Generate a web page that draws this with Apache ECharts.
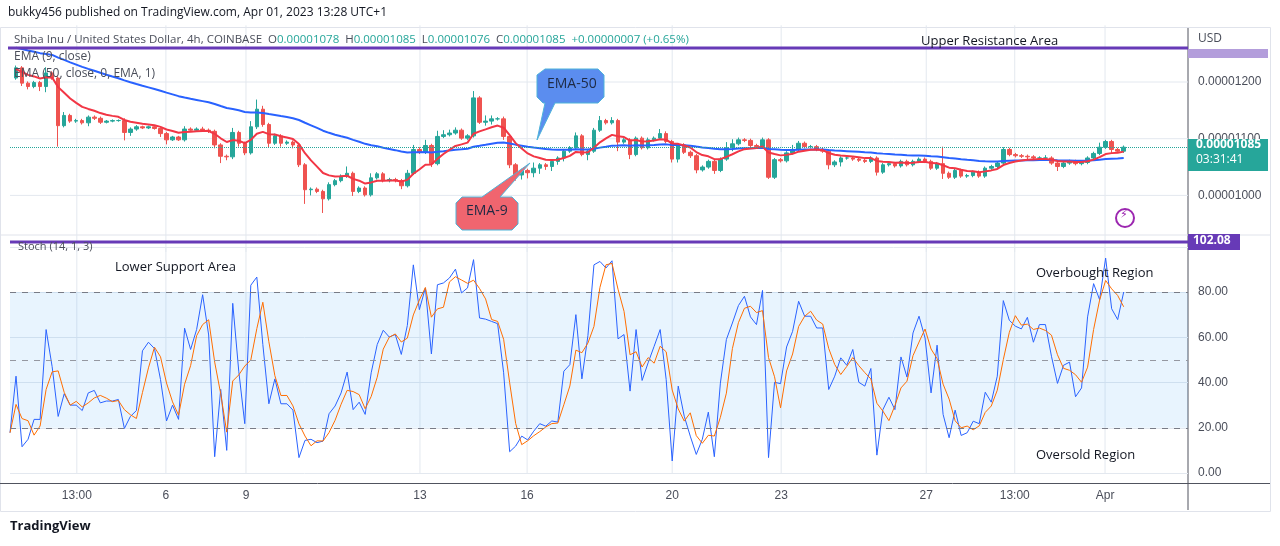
<!DOCTYPE html>
<html><head><meta charset="utf-8">
<script src="https://cdn.jsdelivr.net/npm/echarts@6/dist/echarts.min.js"></script>
<style>html,body{margin:0;padding:0;background:#fff}#c{width:1280px;height:546px}</style>
</head><body><div id="c"></div>
<script>
// prices in units of 1e-8 USD
const closes = [
1225,1198,1192,1199,1192,1216,1207,1123,1141,1131,1132,1128,1138,1136,1129,1131,1132,1132,1111,1117,1121,1119,1121,1118,1109,1098,1103,1098,1117,1115,1117,1115,1113,1089,1069,1068,1111,1092,1075,1121,1152,1125,1092,1105,1092,1094,1089,1054,
1010,1011,1007,994,1019,1026,1034,1039,1007,1013,1001,1031,1038,1026,1028,1026,1017,1039,1081,1076,1088,1056,1104,1107,1110,1115,1101,1105,1172,1129,1131,1135,1135,1104,1054,1036,1044,1040,1048,1054,1051,1060,1066,1078,1084,1105,1072,1078,
1115,1132,1128,1132,1094,1098,1072,1101,1084,1098,1101,1109,1095,1064,1089,1076,1070,1045,1050,1060,1044,1064,1084,1091,1098,1097,1088,1086,1098,1032,1063,1061,1075,1081,1092,1086,1086,1081,1078,1054,1059,1066,1066,1064,1062,1060,1066,1041,
1054,1056,1052,1060,1054,1060,1064,1060,1048,1056,1039,1032,1044,1034,1035,1041,1034,1048,1051,1057,1081,1072,1070,1069,1068,1066,1066,1066,1057,1051,1057,1060,1056,1058,1066,1074,1085,1095,1081,1078,1085];
const firstOpen = 1207;
const wickUp = [
4,3,3,3,3,10,3,3,6,3,3,3,3,3,3,2,2,2,4,3,3,2,2,2,2,3,2,2,5,3,3,4,3,3,3,3,8,3,3,10,17,6,3,4,3,3,3,3,
3,3,3,3,4,3,3,12,3,3,3,8,3,3,3,3,3,6,8,4,10,3,10,8,6,5,3,3,12,3,10,6,3,4,3,3,3,3,10,3,3,3,3,4,3,6,3,3,
4,8,3,6,3,3,3,3,3,4,3,8,4,3,3,3,3,3,3,3,3,3,10,8,4,3,3,3,4,3,3,3,3,8,4,3,3,3,3,3,3,3,3,3,3,3,3,3,
3,3,3,3,3,3,3,3,3,3,30,3,3,3,3,3,3,3,3,3,4,3,3,3,3,3,3,5,3,3,3,3,3,3,3,3,8,3,3,3,3];
const wickDn = [
3,5,5,3,8,10,3,37,3,3,3,3,6,3,3,2,2,2,14,6,3,2,2,2,6,8,2,2,3,3,3,3,3,6,12,6,4,6,4,3,4,4,8,3,6,3,6,4,
25,10,3,25,3,3,3,3,8,3,3,3,3,3,3,3,6,3,3,3,3,6,3,3,3,3,3,3,3,3,6,6,3,6,6,10,8,10,8,10,6,8,6,6,3,3,3,10,
3,3,3,3,16,3,8,3,3,3,3,3,3,6,6,3,4,6,3,3,6,3,3,6,3,3,3,3,3,3,3,3,3,3,3,3,3,3,3,8,4,8,3,3,3,3,3,6,
3,3,3,3,3,3,3,3,3,3,10,3,3,3,3,3,3,3,3,3,3,3,3,3,5,3,3,3,3,8,3,3,3,3,3,3,3,3,6,3,3];
const ema50Seed = 1262, ema9Seed = 1222;
const stochK = [
17.8,42.8,11.6,14.9,23.7,23.7,63.4,47,25,35,30,30,27.6,35.4,36.5,31,31.8,31.8,32.5,19.7,25,27.6,54,57.8,55,41.3,23,30,23.7,64,54.6,63.4,78.8,61,7.2,37,10,75,45,21.8,83,86.6,56.8,30.6,41.6,30.6,30.6,27.8,6.8,14.4,14.9,13.4,14.1,26.2,29.6,35.4,44.6,28,31.3,25.9,44.3,56.8,63.1,60.1,61.2,52.4,65.2,92,72.2,
81.8,52.6,83.2,84,86.2,90.1,79.6,81.8,94.3,68.5,68,67,66,44.3,9.4,11.9,16.3,14.6,18.5,21.8,20.7,23,22.5,45,47.9,70,41.6,60.7,92,93.5,90.6,93.8,59.3,61.2,36.2,63.4,40.9,48.7,56,63.4,41.3,5.3,38.4,25.1,16.3,8.2,14.9,26.9,7.2,39.7,59,66.3,74,78.1,69,65.6,80.7,6.8,40.1,39.5,55.7,62.6,75.9,69.3,69.3,64.1,
64.1,36.9,42.8,50.9,47.6,54.6,40.1,38.4,46.2,7.9,28,33.5,28,51.3,42.4,61.9,69.3,59.7,35.4,56.5,25.9,15.6,27.8,16.6,17.8,22.9,21.8,35.7,31.3,42.8,76.2,67.5,64.9,63.7,68.8,57.8,65.6,65.6,51.6,39.6,47.6,49,33.7,37.6,69,83.7,76.6,95,72.6,67.8,80];
const tickPos = [11.1,25.9,39.2,68.1,85.9,110,128.1,152.2,166.9,181.9];
const tickLabels = ["13:00","6","9","13","16","20","23","27","13:00","Apr"];
const priceTicks = [1000,1100,1200];
const lastPrice = 1085;

const candles=[], e9=[], e50=[];
let prev=firstOpen, a=ema9Seed, b=ema50Seed;
closes.forEach((c,i)=>{
  const o=prev, x=i+1;
  candles.push([x,o,c,Math.min(o,c)-wickDn[i],Math.max(o,c)+wickUp[i]]);
  a=a+(c-a)*2/10; b=b+(c-b)*2/51;
  e9.push([x,a]); e50.push([x,b]);
  prev=c;
});
const kData=stochK.map((v,i)=>[i,v]);
const dData=stochK.map((v,i)=>{const s=stochK.slice(Math.max(0,i-2),i+1);return [i,s.reduce((p,q)=>p+q,0)/s.length];});

const XMAX=(1188-10)/6.02;
const GC='#e3e8ef';
const gridSeries=[];
priceTicks.forEach(v=>gridSeries.push({type:'line',xAxisIndex:0,yAxisIndex:0,data:[[0,v],[XMAX,v]],showSymbol:false,silent:true,z:0,lineStyle:{color:GC,width:1}}));
tickPos.forEach(t=>{
  gridSeries.push({type:'line',xAxisIndex:0,yAxisIndex:0,data:[[t,900],[t,1300]],showSymbol:false,silent:true,z:0,lineStyle:{color:GC,width:1}});
  gridSeries.push({type:'line',xAxisIndex:1,yAxisIndex:1,data:[[t,0],[t,100]],showSymbol:false,silent:true,z:0,lineStyle:{color:GC,width:1}});
});
const chart=echarts.init(document.getElementById('c'));
const F='"Open Sans", sans-serif';
const txt=(l,t,s,o={})=>({type:'text',left:l,top:t,z:70,style:Object.assign({text:s,fill:'#131722',font:'12px '+F},o)});
chart.setOption({
  animation:false,
  grid:[{left:10,right:92,top:25.3,height:226.8},{left:10,right:92,top:246.75,height:226.25}],
  xAxis:[
    {gridIndex:0,type:'value',min:0,max:XMAX,show:false},
    {gridIndex:1,type:'value',min:0,max:XMAX,splitLine:{show:false},
     axisLine:{show:false},axisTick:{show:false},
     axisLabel:{customValues:tickPos,formatter:(v)=>{const i=tickPos.findIndex(t=>Math.abs(t-v)<0.01);return i>=0?tickLabels[i]:'';},color:'#4a4e5a',fontSize:12,margin:17}}
  ],
  yAxis:[
    {gridIndex:0,type:'value',position:'right',min:900,max:1300,interval:100,splitLine:{show:false},axisLine:{show:false},axisTick:{show:false},
     axisLabel:{color:'#4a4e5a',fontSize:12,margin:10,formatter:v=>(v===900||v===1300)?'':(v/1e8).toFixed(8)}},
    {gridIndex:1,type:'value',position:'right',min:0,max:100,interval:20,splitLine:{show:true,lineStyle:{color:GC}},axisLine:{show:false},axisTick:{show:false},
     axisLabel:{color:'#4a4e5a',fontSize:12,margin:10,formatter:v=>v===100?'':v.toFixed(2)}}
  ],
  series:gridSeries.concat([
    {type:'candlestick',xAxisIndex:0,yAxisIndex:0,data:candles,encode:{x:0,y:[1,2,3,4]},barWidth:4,z:2,
     itemStyle:{color:'#26a69a',color0:'#ef5350',borderColor:'#26a69a',borderColor0:'#ef5350'},
     markLine:{symbol:'none',silent:true,label:{show:false},lineStyle:{color:'#26a69a',type:'dotted',width:1},data:[{yAxis:lastPrice}]}},
    {type:'line',xAxisIndex:0,yAxisIndex:0,data:e50,showSymbol:false,lineStyle:{color:'#2962ff',width:2},z:3},
    {type:'line',xAxisIndex:0,yAxisIndex:0,data:e9,showSymbol:false,lineStyle:{color:'#f23645',width:2},z:4},
    {type:'line',xAxisIndex:1,yAxisIndex:1,data:kData,showSymbol:false,lineStyle:{color:'#2962ff',width:1},z:3,
     markArea:{silent:true,itemStyle:{color:'rgba(33,150,243,0.1)'},data:[[{yAxis:20},{yAxis:80}]]},
     markLine:{symbol:'none',silent:true,label:{show:false},data:[
       {yAxis:80,lineStyle:{color:'#787b86',type:[6,6],width:1}},
       {yAxis:50,lineStyle:{color:'#9598a1',type:[6,6],width:1}},
       {yAxis:20,lineStyle:{color:'#787b86',type:[6,6],width:1}}]}},
    {type:'line',xAxisIndex:1,yAxisIndex:1,data:dData,showSymbol:false,lineStyle:{color:'#ff6d00',width:1},z:3}
  ]),
  graphic:[
    {type:'rect',shape:{x:0.5,y:27.5,width:1270,height:484},style:{fill:'none',stroke:'#e0e3eb'},z:-1},
    {type:'line',shape:{x1:1188,y1:28,x2:1188,y2:510},style:{stroke:'#50535e',lineWidth:1}},
    {type:'line',shape:{x1:0,y1:235,x2:1270,y2:235},style:{stroke:'#e0e3eb',lineWidth:1}},
    {type:'line',shape:{x1:0,y1:483.5,x2:1270,y2:483.5},style:{stroke:'#50535e',lineWidth:1}},
    {type:'line',shape:{x1:8,y1:48,x2:1188,y2:48},style:{stroke:'#673ab7',lineWidth:3},z:50},
    {type:'line',shape:{x1:10,y1:242,x2:1188,y2:242},style:{stroke:'#673ab7',lineWidth:3},z:50},
    {type:'rect',shape:{x:1188,y:49,width:80,height:9},style:{fill:'#b39ddb'},z:50},
    {type:'rect',shape:{x:1188,y:234,width:52,height:16},style:{fill:'#673ab7'},z:50},
    txt(1193,235,'102.08',{fill:'#fff',font:'bold 12px '+F}),
    {type:'rect',shape:{x:1188,y:139,width:80,height:32},style:{fill:'#26a69a'},z:50},
    txt(1196,139,'0.00001085',{fill:'#fff',font:'bold 12px '+F}),
    txt(1196,154,'03:31:41',{fill:'#fff',font:'12px '+F}),
    txt(1198,33,'USD',{fill:'#4a4e5a'}),
    txt(8,7,'bukky456 published on TradingView.com, Apr 01, 2023 13:28 UTC+1',{font:'12px '+F}),
    {type:'text',left:14,top:34,z:70,style:{rich:{g:{fill:'#4a4e5a',font:'11.5px '+F},t:{fill:'#26a69a',font:'11.5px '+F}},
      text:'{g|Shiba Inu / United States Dollar, 4h, COINBASE  O}{t|0.00001078}{g|  H}{t|0.00001085}{g|  L}{t|0.00001076}{g|  C}{t|0.00001085}{t|  +0.00000007 (+0.65%)}'}},
    txt(14,51,'EMA (9, close)',{fill:'#4a4e5a'}),
    txt(14,68,'EMA (50, close, 0, EMA, 1)',{fill:'#4a4e5a'}),
    txt(921,35,'Upper Resistance Area',{font:'13px '+F}),
    txt(18,241,'Stoch (14, 1, 3)',{fill:'#4a4e5a',font:'11px '+F}),
    txt(115,261,'Lower Support Area',{font:'13px '+F}),
    txt(1036,267,'Overbought Region',{font:'13px '+F}),
    txt(1036,449,'Oversold Region',{font:'13px '+F}),
    {type:'polygon',z:60,shape:{points:[[545,69],[598,69],[604,75],[604,97],[598,103],[555,103],[537,140],[545,103],[543,103],[537,97],[537,75]]},style:{fill:'#5b8def',stroke:'#4fb3d9'}},
    {type:'text',z:61,left:547,top:77,style:{text:'EMA-50',fill:'#1e2a44',font:'14px '+F}},
    {type:'polygon',z:60,shape:{points:[[462,197],[482,197],[530,163],[500,197],[512,197],[518,203],[518,224],[512,230],[462,230],[456,224],[456,203]]},style:{fill:'#f0656f',stroke:'#4fb3d9'}},
    {type:'text',z:61,left:466,top:204,style:{text:'EMA-9',fill:'#1e2a44',font:'14px '+F}},
    {type:'circle',shape:{cx:1125,cy:218,r:9},style:{fill:'none',stroke:'#9c27b0',lineWidth:2}},
    {type:'text',left:1120,top:210,style:{text:'⚡',fill:'#9c27b0',font:'11px "DejaVu Sans"'}},
    {type:'text',left:10,top:520,style:{text:'TradingView',fill:'#131722',font:'bold 13px '+F}}
  ]
});
</script></body></html>
